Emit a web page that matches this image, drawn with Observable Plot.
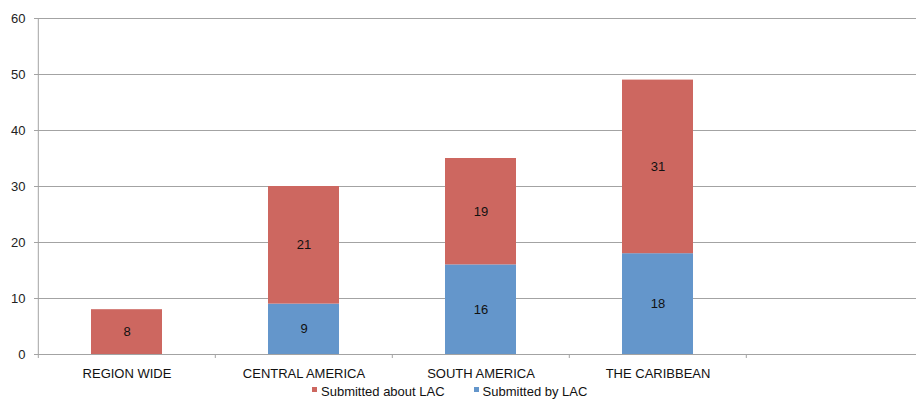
<!DOCTYPE html>
<html>
<head>
<meta charset="utf-8">
<script src="https://cdn.jsdelivr.net/npm/d3@7"></script>
<script src="https://cdn.jsdelivr.net/npm/@observablehq/plot@0.6"></script>
<style>
  body { margin: 0; background: #fff; font-family: "Liberation Sans", Arial, Helvetica, sans-serif; }
  #legend { display: flex; margin-left: 312px; font-size: 13px; line-height: 15px; color: #111; }
  #legend .item { display: flex; align-items: center; margin-right: 29px; }
  #legend .sw { width: 5px; height: 5px; margin-right: 4px; margin-top: -4px; }
</style>
</head>
<body>
<div id="chart"></div>
<div id="legend"></div>
<script>
// Regions along the x axis (the last band is left empty)
const regions = ["REGION WIDE", "CENTRAL AMERICA", "SOUTH AMERICA", "THE CARIBBEAN", ""];
// Submissions per region, by series
const submittedBy = [0, 9, 16, 18];
const submittedAbout = [8, 21, 19, 31];
const seriesNames = ["Submitted by LAC", "Submitted about LAC"];
const seriesColors = ["#6496CB", "#CD6760"];
const legendOrder = ["Submitted about LAC", "Submitted by LAC"];
const yTicks = [0, 10, 20, 30, 40, 50, 60];

// Long-format rows; "by" rows first so they sit at the bottom of each stack
const rows = [];
submittedBy.forEach((v, i) => { if (v > 0) rows.push({region: regions[i], series: seriesNames[0], value: v}); });
submittedAbout.forEach((v, i) => { if (v > 0) rows.push({region: regions[i], series: seriesNames[1], value: v}); });

const W = 916, H = 384;
const xRange = [37, 924];
const step = (xRange[1] - xRange[0]) / regions.length;
const grey = "#a3a3a3";

const chart = Plot.plot({
  width: W,
  height: H,
  marginTop: 18,
  marginBottom: 30,
  marginLeft: 37,
  marginRight: 0,
  style: {fontFamily: '"Liberation Sans", Arial, Helvetica, sans-serif', fontSize: "13px", background: "#fff"},
  x: {domain: regions, range: xRange, paddingInner: 0.6, paddingOuter: 0.3, align: 0.5},
  y: {domain: [0, 60]},
  color: {domain: seriesNames, range: seriesColors},
  marks: [
    Plot.ruleY(yTicks, {stroke: grey, strokeWidth: 1}),
    // vertical axis line at the left edge of the first band
    Plot.ruleX([regions[0]], {dx: -step / 2, y1: 0, y2: 60, stroke: grey}),
    // category boundary ticks below the baseline
    Plot.ruleX(regions, {dx: -step / 2, y1: 0, y2: 0, insetBottom: -4, stroke: grey}),
    Plot.barY(rows, {x: "region", y: "value", fill: "series"}),
    Plot.text(rows, Plot.stackY({x: "region", y: "value", z: "series", text: d => String(d.value), fill: "#111", fontSize: 13})),
    Plot.axisY({ticks: yTicks, tickSize: 3, tickPadding: 9, stroke: grey, fill: "#222", fontSize: 13, label: null}),
    Plot.axisX({tickSize: 0, tickPadding: 14, fill: "#111", fontSize: 13, label: null})
  ]
});
document.getElementById("chart").appendChild(chart);

// Legend below the chart
const legend = document.getElementById("legend");
legendOrder.forEach(name => {
  const item = document.createElement("div");
  item.className = "item";
  const sw = document.createElement("span");
  sw.className = "sw";
  sw.style.background = seriesColors[seriesNames.indexOf(name)];
  const label = document.createElement("span");
  label.textContent = name;
  item.appendChild(sw);
  item.appendChild(label);
  legend.appendChild(item);
});
</script>
</body>
</html>
